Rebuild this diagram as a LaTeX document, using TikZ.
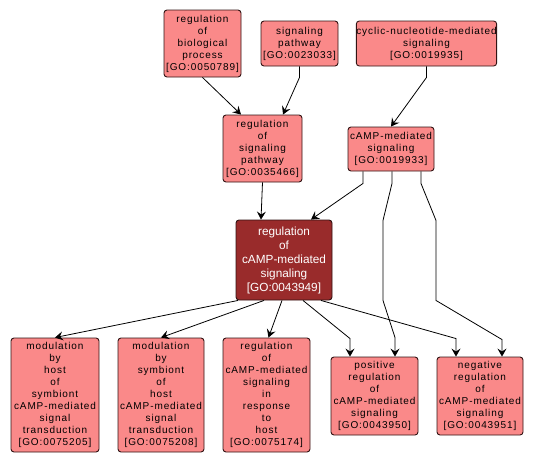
\documentclass[tikz,border=0pt]{standalone}
\usepackage{fontspec}
\setmainfont{Liberation Sans}
\newfontfamily\spacedfont[LetterSpace=9]{Liberation Sans}
\usetikzlibrary{arrows.meta,calc}
\definecolor{nodepink}{RGB}{250,137,137}
\definecolor{maincol}{RGB}{153,43,43}
\definecolor{bordercol}{RGB}{50,20,20}
\begin{document}
\begin{tikzpicture}[x=1pt,y=-1pt,
  term/.style={draw=bordercol, line width=0.9pt, rounded corners=3pt, fill=nodepink,
    inner sep=0pt, align=center, font=\spacedfont\fontsize{10}{12}\selectfont},
  mainterm/.style={term, fill=maincol, text=white, font=\fontsize{11.8}{14}\selectfont},
  link/.style={line width=0.8pt, draw=black, -{Stealth[length=8pt,width=9pt,inset=3pt]}}]
\useasboundingbox (0,0) rectangle (536,463);
\fill[white] (0,0) rectangle (536,463);

\node[term, minimum width=77pt, minimum height=67pt] (A) at (202.5,43.5) {regulation\\of\\biological\\process\\{}[GO:0050789]};
\node[term, minimum width=77pt, minimum height=45pt] (B) at (299.5,43.5) {signaling\\pathway\\{}[GO:0023033]};
\node[term, minimum width=139pt, minimum height=45pt] (C) at (426.5,43.5) {cyclic-nucleotide-mediated\\signaling\\{}[GO:0019935]};
\node[term, minimum width=79pt, minimum height=67pt] (D) at (262.5,148.5) {regulation\\of\\signaling\\pathway\\{}[GO:0035466]};
\node[term, minimum width=86pt, minimum height=44pt] (E) at (391,149) {cAMP-mediated\\signaling\\{}[GO:0019933]};
\node[mainterm, minimum width=96pt, minimum height=80pt] (F) at (284,260) {regulation\\of\\cAMP-mediated\\signaling\\{}[GO:0043949]};
\node[term, minimum width=88pt, minimum height=114pt] (G) at (55,395) {modulation\\by\\host\\of\\symbiont\\cAMP-mediated\\signal\\transduction\\{}[GO:0075205]};
\node[term, minimum width=86pt, minimum height=114pt] (H) at (161,395) {modulation\\by\\symbiont\\of\\host\\cAMP-mediated\\signal\\transduction\\{}[GO:0075208]};
\node[term, minimum width=87pt, minimum height=114pt] (I) at (266.5,395) {regulation\\of\\cAMP-mediated\\signaling\\in\\response\\to\\host\\{}[GO:0075174]};
\node[term, minimum width=87pt, minimum height=78pt] (J) at (374.5,396) {positive\\regulation\\of\\cAMP-mediated\\signaling\\{}[GO:0043950]};
\node[term, minimum width=86pt, minimum height=78pt] (K) at (480,396) {negative\\regulation\\of\\cAMP-mediated\\signaling\\{}[GO:0043951]};

\draw[link] (A.south) -- ($(D.north)+(-21.5,0)$);
\draw[link] (B.south) -- ++(0,11) -- ($(D.north)+(20.5,0)$);
\draw[link] (C.south) -- ++(0,11) -- (E.north);
\draw[link] (D.south) -- ($(F.north)+(-23,0)$);
\draw[link] ($(E.south)+(-28,0)$) -- ++(0,12) -- ($(F.north)+(27,0)$);
\draw[link] ($(E.south)+(1,0)$) -- ++(0,12) -- ++(-9,37) -- ++(0,80) -- ($(J.north)+(20.5,-19)$) -- ($(J.north)+(20.5,0)$);
\draw[link] ($(E.south)+(30,0)$) -- ++(0,12) -- ++(15,37) -- ++(0,80) -- ($(K.north)+(22,-17)$) -- ($(K.north)+(22,0)$);
\draw[link] ($(F.south)+(-46,0)$) -- (G.north);
\draw[link] ($(F.south)+(-20,0)$) -- (H.north);
\draw[link] ($(F.south)+(-2,0)$) -- ($(I.north)+(2,0)$);
\draw[link] ($(F.south)+(19,0)$) -- ($(J.north)+(-24.5,-18)$) -- ($(J.north)+(-24.5,0)$);
\draw[link] ($(F.south)+(37,0)$) -- ($(K.north)+(-24,-18)$) -- ($(K.north)+(-24,0)$);
\end{tikzpicture}
\end{document}
